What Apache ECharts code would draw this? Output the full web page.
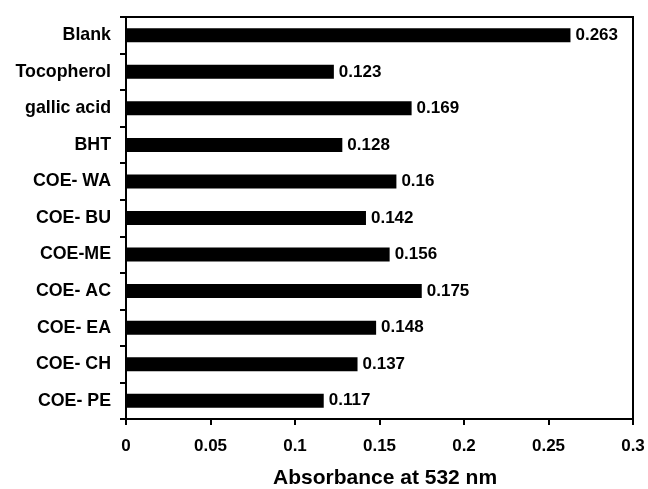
<!DOCTYPE html>
<html>
<head>
<meta charset="utf-8">
<script src="https://cdn.jsdelivr.net/npm/echarts@6/dist/echarts.min.js"></script>
<style>
  html, body { margin: 0; padding: 0; background: #fff; }
  #chart { width: 648px; height: 489px; }
</style>
</head>
<body>
<div id="chart"></div>
<script>
// Samples, listed top to bottom
const categories = ['Blank', 'Tocopherol', 'gallic acid', 'BHT', 'COE- WA', 'COE- BU',
                    'COE-ME', 'COE- AC', 'COE- EA', 'COE- CH', 'COE- PE'];
// Absorbance readings at 532 nm
const absorbance = [0.263, 0.123, 0.169, 0.128, 0.16, 0.142, 0.156, 0.175, 0.148, 0.137, 0.117];
// X axis tick values
const xTicks = [0, 0.05, 0.1, 0.15, 0.2, 0.25, 0.3];

const FONT = '"Liberation Sans", Arial, sans-serif';
const chart = echarts.init(document.getElementById('chart'), null, { renderer: 'canvas' });

chart.setOption({
  animation: false,
  backgroundColor: '#ffffff',
  grid: {
    left: 126, top: 17, right: 15, bottom: 70,
    show: true, borderColor: '#000', borderWidth: 2, backgroundColor: 'transparent'
  },
  xAxis: {
    type: 'value',
    min: xTicks[0],
    max: xTicks[xTicks.length - 1],
    interval: 0.05,
    splitLine: { show: false },
    axisLine: { show: true, lineStyle: { color: '#000', width: 2 } },
    axisTick: { show: true, length: 6, lineStyle: { color: '#000', width: 2 } },
    axisLabel: {
      margin: 19,
      color: '#000',
      fontFamily: FONT,
      fontWeight: 'bold',
      fontSize: 17,
      formatter: function (v) { return String(parseFloat(v.toFixed(2))); }
    }
  },
  yAxis: {
    type: 'category',
    data: categories,
    inverse: true,
    axisLine: { show: true, lineStyle: { color: '#000', width: 2 } },
    axisTick: { show: true, length: 6, interval: 0, lineStyle: { color: '#000', width: 2 } },
    axisLabel: {
      margin: 15,
      color: '#000',
      fontFamily: FONT,
      fontWeight: 'bold',
      fontSize: 17.8
    }
  },
  series: [{
    type: 'bar',
    data: absorbance,
    barWidth: 14,
    itemStyle: { color: '#000' },
    label: {
      show: true,
      position: 'right',
      distance: 5,
      color: '#000',
      fontFamily: FONT,
      fontWeight: 'bold',
      fontSize: 17,
      formatter: function (p) { return String(p.value); }
    }
  }],
  graphic: [{
    type: 'text',
    left: 273,
    top: 468,
    style: {
      text: 'Absorbance at 532 nm',
      fill: '#000',
      font: 'bold 21px ' + FONT
    }
  }]
});
</script>
</body>
</html>
